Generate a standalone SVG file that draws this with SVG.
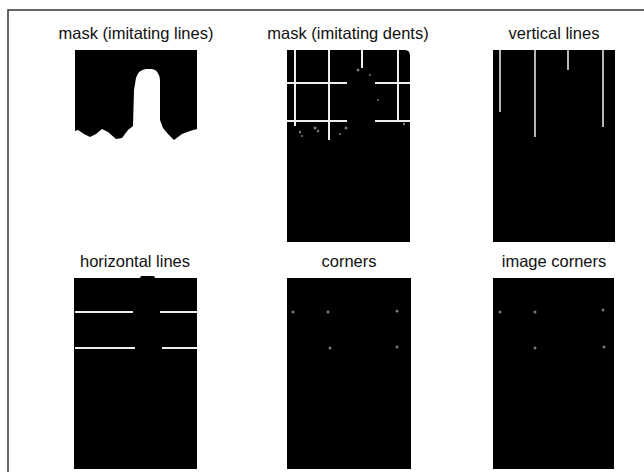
<svg xmlns="http://www.w3.org/2000/svg" width="644" height="472" viewBox="0 0 644 472">
<style>
.t{font-family:"Liberation Sans",Arial,sans-serif;font-size:16.5px;fill:#111;text-anchor:middle}
.p{fill:#000}
.w{stroke:#eeeeee;stroke-width:2;fill:none}
.g{stroke:#b5b5b5;stroke-width:2;fill:none}
.d{fill:#7a7a7a}
</style>
<rect width="644" height="472" fill="#fff"/>
<path d="M8,472 V10 H644" fill="none" stroke="#333" stroke-width="1.5"/>
<g id="mask-lines">
<text class="t" x="136" y="39">mask (imitating lines)</text>
<path class="p" d="M75,50 H197 V129 L190,131 L182,134 L174,140 L168,134 L163,128 L160,120 V80 Q159,70 152,69 L146,69 Q138,70 136,78 L134,90 L133,126 L128,130 L122,138 L116,139 L108,132 L102,129 L96,134 L90,137 L84,134 L78,130 L75,131 Z"/>
</g>
<g id="mask-dents">
<text class="t" x="348" y="39">mask (imitating dents)</text>
<path class="p" d="M287,50 H405 Q410,50 410,56 V242 H287 Z"/>
<path class="w" d="M295,50 V126 M329,50 V140 M362,50 V68 M398,50 V122 M287,83 H347 M375,83 H410 M287,121 H347 M375,121 H410"/>
<g class="d"><circle cx="315" cy="128" r="1.5"/><circle cx="300" cy="132" r="1.2"/><circle cx="318" cy="131" r="1.2"/><circle cx="346" cy="128" r="1.5"/><circle cx="358" cy="70" r="1.5"/><circle cx="370" cy="75" r="1"/><circle cx="302" cy="136" r="1"/><circle cx="340" cy="134" r="1"/><circle cx="378" cy="100" r="1"/><circle cx="404" cy="124" r="1.2"/></g>
</g>
<g id="vertical-lines">
<text class="t" x="554" y="39">vertical lines</text>
<rect class="p" x="493" y="50" width="122" height="192"/>
<path class="g" d="M500,50 V112 M535,50 V137 M568,50 V70 M603,50 V127"/>
</g>
<g id="horizontal-lines">
<text class="t" x="135" y="267">horizontal lines</text>
<rect class="p" x="74" y="278" width="123" height="191"/>
<rect class="p" x="140" y="276" width="15" height="4" rx="2"/>
<path class="w" d="M75,312 H133 M160,312 H197 M75,348 H135 M162,348 H197"/>
</g>
<g id="corners">
<text class="t" x="349" y="267">corners</text>
<rect class="p" x="287" y="278" width="124" height="191"/>
<g class="d"><circle cx="293" cy="312" r="1.5"/><circle cx="328" cy="312" r="1.5"/><circle cx="397" cy="311" r="1.5"/><circle cx="330" cy="348" r="1.5"/><circle cx="397" cy="347" r="1.5"/></g>
</g>
<g id="image-corners">
<text class="t" x="554" y="267">image corners</text>
<rect class="p" x="493" y="278" width="121" height="191"/>
<g class="d"><circle cx="500" cy="312" r="1.5"/><circle cx="535" cy="312" r="1.5"/><circle cx="603" cy="310" r="1.5"/><circle cx="535" cy="348" r="1.5"/><circle cx="604" cy="347" r="1.5"/></g>
</g>
</svg>
